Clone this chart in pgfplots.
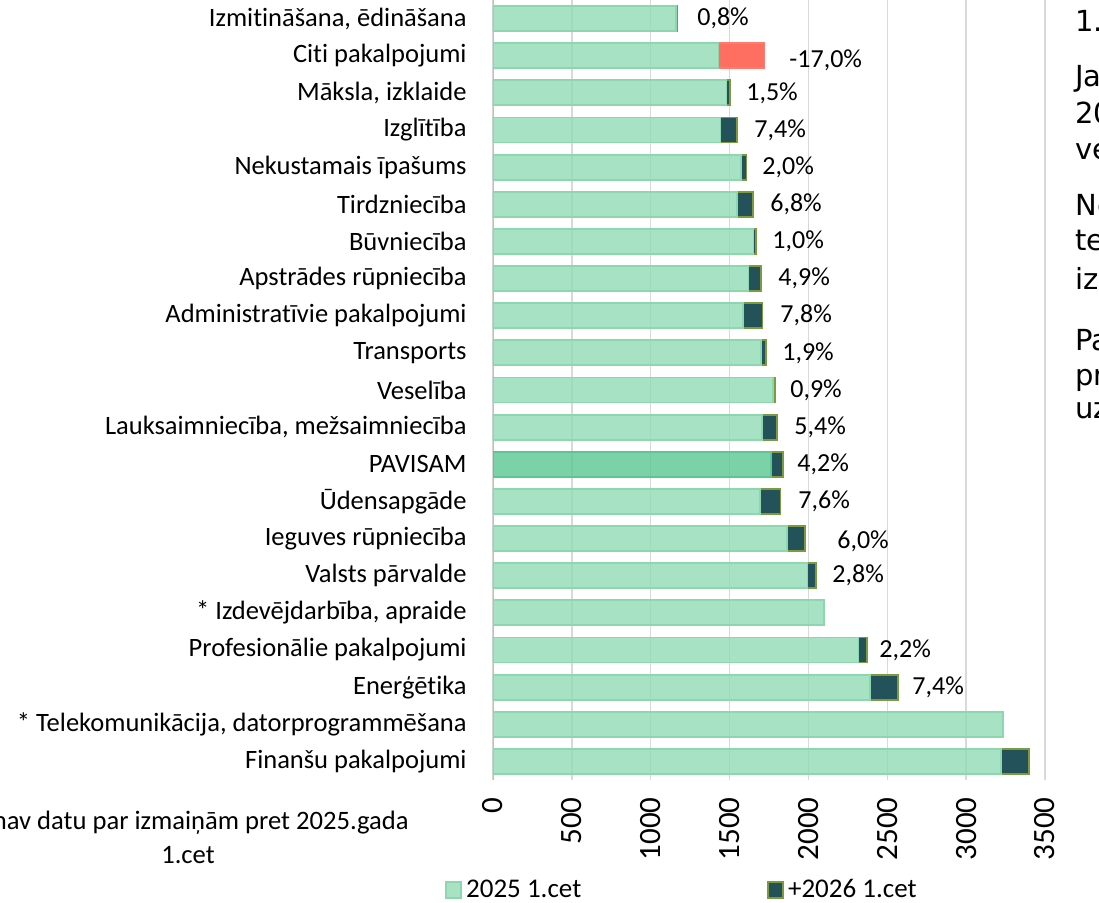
\documentclass[border=0pt]{standalone}
\usepackage{pgfplots}
\pgfplotsset{compat=1.18}
\usepackage{fontspec}
\setmainfont{Carlito}[Ligatures=NoCommon]
\newfontfamily\dejavu{DejaVu Sans}
\definecolor{lightfill}{HTML}{91DBB5}
\definecolor{lightedge}{HTML}{8CD7AE}
\definecolor{totfill}{HTML}{59C790}
\definecolor{totedge}{HTML}{5CC592}
\definecolor{darkfill}{HTML}{23525A}
\definecolor{darkedge}{HTML}{7D9B3E}
\definecolor{redfill}{HTML}{FF6F61}
\definecolor{rededge}{HTML}{FF7B6E}
\definecolor{gridgray}{HTML}{D9D9D9}
\definecolor{axgray}{HTML}{BFBFBF}
\newcommand\catfont{\fontsize{13.25}{15}\selectfont}
\newcommand\pctfont{\fontsize{13}{15}\selectfont}
\newcommand\footfont{\fontsize{13.3}{15}\selectfont}
\newcommand\tickfont{\fontsize{15.5}{17}\selectfont}
\newcommand\legfont{\fontsize{13.5}{16}\selectfont}
\newcommand\sidefont{\dejavu\fontsize{14.5}{17}\selectfont}
\tikzset{
  pct/.style={anchor=west, inner sep=0pt, font=\pctfont},
  side/.style={anchor=base west, inner sep=0pt, font=\sidefont},
}
\pgfplotsset{
  baseax/.style={
    at={(246.5pt,61pt)}, anchor=south west,
    scale only axis, width=276pt, height=390pt,
    xmin=0, xmax=3500, ymin=-0.5, ymax=20.5,
    xbar stacked, bar width=12.5pt,
  },
  overlay/.style={baseax, hide axis},
  lightbar/.style={fill=lightfill, fill opacity=0.8, draw=lightedge, line width=0.9pt},
  darkbar/.style={fill=darkfill, draw=darkedge, line width=0.9pt},
}
\begin{document}
\begin{tikzpicture}
\useasboundingbox (0,0) rectangle (549.5pt,451pt);
\clip (0,0) rectangle (549.5pt,451pt);
% main axis: rows with an increase
\begin{axis}[
  baseax,
  axis line style={draw=none},
  xmajorgrids, ymajorgrids=false,
  grid style={draw=gridgray, line width=0.75pt},
  major tick length=0pt,
  xtick={0,500,...,3500},
  ytick={0,...,20},
  yticklabels={{Finanšu pakalpojumi},{* Telekomunikācija, datorprogrammēšana},{Enerģētika},{Profesionālie pakalpojumi},{* Izdevējdarbība, apraide},{Valsts pārvalde},{Ieguves rūpniecība},{Ūdensapgāde},{PAVISAM},{Lauksaimniecība, mežsaimniecība},{Veselība},{Transports},{Administratīvie pakalpojumi},{Apstrādes rūpniecība},{Būvniecība},{Tirdzniecība},{Nekustamais īpašums},{Izglītība},{Māksla, izklaide},{Citi pakalpojumi},{Izmitināšana, ēdināšana}},
  xticklabel style={rotate=90, anchor=east, inner sep=0pt, font=\tickfont},
  xticklabel shift=8.5pt,
  yticklabel style={anchor=east, inner sep=0pt, font=\catfont},
  yticklabel shift=13pt,
  /pgf/number format/assume math mode=true,
  /pgf/number format/1000 sep={},
  legend columns=2,
  legend cell align=left,
  legend style={at={(-0.0870,-0.1410)}, anchor=west, draw=none, fill=none, inner sep=0pt, font=\legfont,
    /tikz/every even column/.append style={column sep=91pt}, nodes={inner sep=2pt}},
  legend image code/.code={\draw[#1] (0pt,-4pt) rectangle (7.5pt,4pt);},
]
\addplot[lightbar] coordinates {
 (3222,0) (2390,2) (2318,3) (1994,5) (1866,6) (1694,7) (1707,9) (1774,10) (1700,11)
 (1585,12) (1620,13) (1652,14) (1545,15) (1575,16) (1442,17) (1480,18) (1160,20)};
\addlegendentry{2025 1.cet}
\addplot[darkbar] coordinates {
 (177,0) (177,2) (51,3) (56,5) (112,6) (129,7) (92,9) (16,10) (32,11)
 (124,12) (79,13) (17,14) (105,15) (32,16) (107,17) (22,18) (9,20)};
\addlegendentry{+2026 1.cet}
\draw[axgray, line width=0.75pt] (axis cs:0,-0.5) -- (axis cs:0,20.5);
\end{axis}
% total row
\begin{axis}[overlay]
\addplot[fill=totfill, fill opacity=0.8, draw=totedge, line width=0.9pt] coordinates {(1765,8)};
\addplot[darkbar] coordinates {(74,8)};
\end{axis}
% rows with no data on change
\begin{axis}[overlay]
\addplot[lightbar] coordinates {(3235,1) (2100,4)};
\end{axis}
% decrease row
\begin{axis}[overlay]
\addplot[lightbar] coordinates {(1430,19)};
\addplot[fill=redfill, draw=rededge, line width=0.9pt] coordinates {(292,19)};
\node[pct] at (axis cs:1293,20) {0,8\%};
\node[pct] at (axis cs:1877,18.87) {-17,0\%};
\node[pct] at (axis cs:1604,18) {1,5\%};
\node[pct] at (axis cs:1655,17) {7,4\%};
\node[pct] at (axis cs:1706,16) {2,0\%};
\node[pct] at (axis cs:1756,15) {6,8\%};
\node[pct] at (axis cs:1769,14) {1,0\%};
\node[pct] at (axis cs:1807,13) {4,9\%};
\node[pct] at (axis cs:1820,12) {7,8\%};
\node[pct] at (axis cs:1832,11) {1,9\%};
\node[pct] at (axis cs:1883,10) {0,9\%};
\node[pct] at (axis cs:1909,9) {5,4\%};
\node[pct] at (axis cs:1928,8) {4,2\%};
\node[pct] at (axis cs:1934,7) {7,6\%};
\node[pct] at (axis cs:2181,5.92) {6,0\%};
\node[pct] at (axis cs:2150,5) {2,8\%};
\node[pct] at (axis cs:2448,3) {2,2\%};
\node[pct] at (axis cs:2657,2) {7,4\%};
\node[pct] at (axis cs:3506,0) {5,5\%};
\end{axis}
% footnote
\node[anchor=east, inner sep=0pt, font=\footfont] at (204.5pt,40pt) {* nav datu par izmaiņām pret 2025.gada};
\node[inner sep=0pt, font=\footfont] at (94pt,23.5pt) {1.cet};
% side text (cut off at the right edge)
\node[side] at (537.5pt,435pt) {1.};
\node[side] at (537.5pt,407.5pt) {Ja};
\node[side] at (537.5pt,389pt) {20};
\node[side] at (537.5pt,371pt) {ve};
\node[side] at (537.5pt,343.5pt) {Ne};
\node[side] at (537.5pt,326pt) {te};
\node[side] at (537.5pt,306pt) {iz};
\node[side] at (537.5pt,276pt) {Pa};
\node[side] at (537.5pt,258.5pt) {pr};
\node[side] at (537.5pt,242pt) {uz};
\end{tikzpicture}
\end{document}
